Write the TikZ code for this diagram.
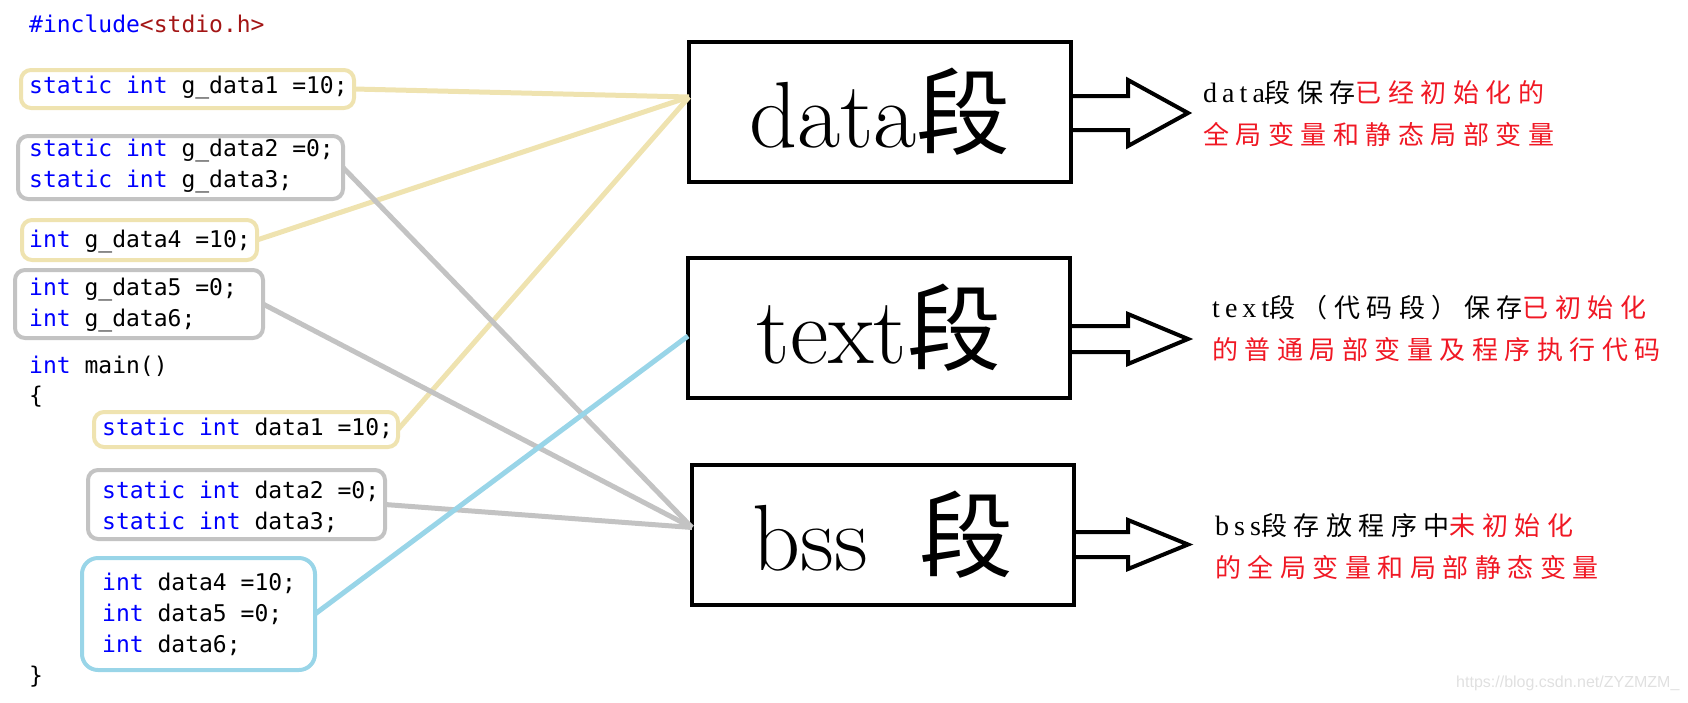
\documentclass[tikz,border=0pt]{standalone}
\usepackage{fontspec}
\newfontfamily\cjk{Noto Sans CJK SC}
\newfontfamily\cjkwide[LetterSpace=25]{Noto Sans CJK SC}
\newfontfamily\serifwide[LetterSpace=18]{Liberation Serif}
\newfontfamily\codefont{DejaVu Sans Mono}
\newfontfamily\markfont{Liberation Sans}

\definecolor{hlyellow}{RGB}{239,227,176}
\definecolor{hlgray}{RGB}{195,195,195}
\definecolor{hlblue}{RGB}{153,213,232}
\definecolor{kwblue}{RGB}{0,0,255}
\definecolor{incred}{RGB}{163,21,21}
\definecolor{descred}{RGB}{240,24,36}

\newcommand\kw[1]{\textcolor{kwblue}{#1}}
\newcommand\hl[1]{{\cjkwide\color{descred}#1}}
\newcommand\lat[1]{{\serifwide\fontsize{28}{42}\selectfont #1}}
\newcommand\codesize{\codefont\fontsize{23}{31}\selectfont}
\newcommand\segsize{\fontsize{94}{94}\selectfont}
\newcommand\descsize{\fontsize{26}{42}\selectfont}

\tikzset{
  codeline/.style={anchor=west, inner sep=0pt, align=left, font=\codesize},
  hlbox/.style={draw, line width=4pt, rounded corners=10pt, outer sep=0pt},
  segbox/.style={draw, line width=4pt, outer sep=0pt, minimum width=382pt, minimum height=140pt, font=\segsize},
  link/.style={line width=5pt},
  hollow/.style={line width=4pt, line join=miter},
  desc/.style={anchor=west, align=left, inner sep=0pt, font=\descsize}
}

\begin{document}
\begin{tikzpicture}[x=1pt, y=-1pt]
    \useasboundingbox (0,0) rectangle (1688,702);
    % source code boxes
    \node[hlbox, draw=hlyellow, minimum width=333pt, minimum height=38pt] (g1box) at (187.5,89) {};
    \node[hlbox, draw=hlgray, minimum width=325pt, minimum height=63pt] (g23box) at (180.5,167.5) {};
    \node[hlbox, draw=hlyellow, minimum width=235pt, minimum height=40pt] (g4box) at (139.5,240) {};
    \node[hlbox, draw=hlgray, minimum width=248pt, minimum height=68pt] (g56box) at (139,304) {};
    \node[hlbox, draw=hlyellow, minimum width=304pt, minimum height=35pt] (d1box) at (246,429.5) {};
    \node[hlbox, draw=hlgray, minimum width=297pt, minimum height=69pt] (d23box) at (236.5,504.5) {};
    \node[hlbox, draw=hlblue, rounded corners=16pt, minimum width=233pt, minimum height=112pt] (d456box) at (198.5,614) {};
    % source code text
    \node[codeline] (inc) at (29,24) {\kw{\#include}\textcolor{incred}{<stdio.h>}};
    \node[codeline] (g1) at (29,87) {\kw{static int} g\_data1 =10;};
    \node[codeline] (g23) at (29,166) {\kw{static int} g\_data2 =0;\\\kw{static int} g\_data3;};
    \node[codeline] (g4) at (29,241) {\kw{int} g\_data4 =10;};
    \node[codeline] (g56) at (29,305) {\kw{int} g\_data5 =0;\\\kw{int} g\_data6;};
    \node[codeline] (mainfn) at (29,366) {\kw{int} main()};
    \node[codeline] (open) at (29,397) {\{};
    \node[codeline] (d1) at (102,428) {\kw{static int} data1 =10;};
    \node[codeline] (d23) at (102,507) {\kw{static int} data2 =0;\\\kw{static int} data3;};
    \node[codeline] (d456) at (102,614) {\kw{int} data4 =10;\\\kw{int} data5 =0;\\\kw{int} data6;};
    \node[codeline] (close) at (29,677) {\}};
    % segments
    \node[segbox] (dataseg) at (880,112) {data{\cjk 段}};
    \node[segbox] (textseg) at (879,328) {text{\cjk 段}};
    \node[segbox] (bssseg) at (883,534.5) {bss\hspace{0.55em}{\cjk 段}};
    \coordinate (datain) at ([yshift=15pt]dataseg.west);
    \coordinate (textin) at ([yshift=-8pt]textseg.west);
    \coordinate (bssin) at ([yshift=7pt]bssseg.west);
    % connectors
    \draw[link, hlyellow] (g1box.east) -- (datain);
    \draw[link, hlyellow] (g4box.east) -- (datain);
    \draw[link, hlyellow] (d1box.east) -- (datain);
    \draw[link, hlgray] (g23box.east) -- (bssin);
    \draw[link, hlgray] (g56box.east) -- (bssin);
    \draw[link, hlgray] (d23box.east) -- (bssin);
    \draw[link, hlblue] (d456box.east) -- (textin);
    % hollow arrows
    \draw[hollow] (dataseg.east) ++(0,-16) -- ++(57,0) -- ++(0,-16) -- ++(60,33) -- ++(-60,33) -- ++(0,-16) -- ++(-57,0);
    \draw[hollow] (textseg.east) ++(0,-2) -- ++(58,0) -- ++(0,-12) -- ++(60,25) -- ++(-60,25) -- ++(0,-12) -- ++(-58,0);
    \draw[hollow] (bssseg.east) ++(0,-2.5) -- ++(54,0) -- ++(0,-12) -- ++(60,24.5) -- ++(-60,24.5) -- ++(0,-12) -- ++(-54,0);
    % descriptions
    \node[desc] (datadesc) at (1203,114) {\lat{data}{\cjkwide 段保存}\hl{已经初始化的}\\\hl{全局变量和静态局部变量}};
    \node[desc] (textdesc) at (1212,328.5) {\lat{text}{\cjkwide 段（代码段）保存}\hl{已初始化}\\\hl{的普通局部变量及程序执行代码}};
    \node[desc] (bssdesc) at (1215,546.5) {\lat{bss}{\cjkwide 段存放程序中}\hl{未初始化}\\\hl{的全局变量和局部静态变量}};
    \node[anchor=west, inner sep=0pt, text=black!12, font=\markfont\fontsize{16}{16}\selectfont] (mark) at (1456,683) {https://blog.csdn.net/ZYZMZM\_};
\end{tikzpicture}
\end{document}
